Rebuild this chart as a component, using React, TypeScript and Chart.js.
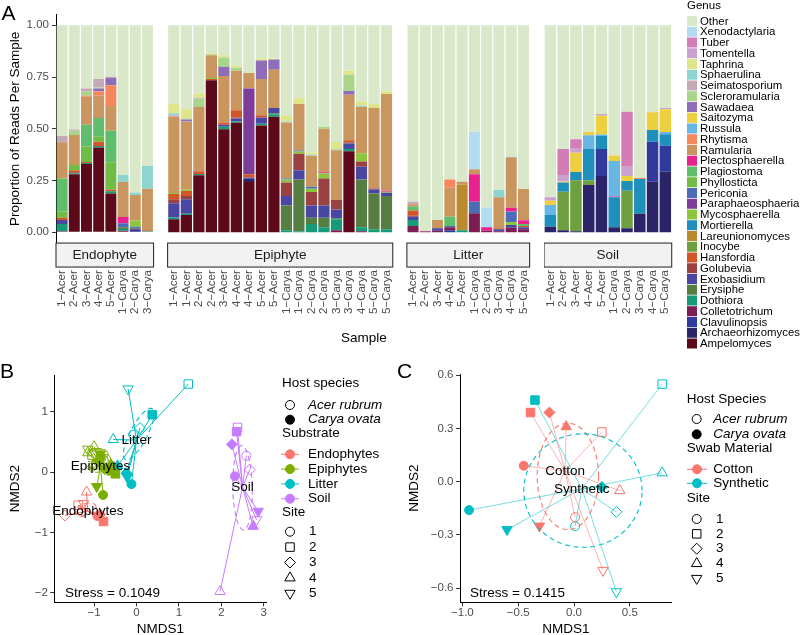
import React, { useEffect, useRef } from "react";
import { Chart, registerables } from "chart.js";

Chart.register(...registerables);

const FONT = "'Liberation Sans', Arial, Helvetica, sans-serif";
Chart.defaults.font.family = FONT;
const TICK = "#4d4d4d";

// ================= Panel A data =================
// legend order (top to bottom); stacking is the reverse (Ampelomyces at the bottom)
const genusNames = [
  "Other", "Xenodactylaria", "Tuber", "Tomentella", "Taphrina", "Sphaerulina",
  "Seimatosporium", "Scleroramularia", "Sawadaea", "Saitozyma", "Russula", "Rhytisma",
  "Ramularia", "Plectosphaerella", "Plagiostoma", "Phyllosticta", "Periconia",
  "Paraphaeosphaeria", "Mycosphaerella", "Mortierella", "Lareunionomyces", "Inocybe",
  "Hansfordia", "Golubevia", "Exobasidium", "Erysiphe", "Dothiora", "Colletotrichum",
  "Clavulinopsis", "Archaeorhizomyces", "Ampelomyces",
];
const genusColors = [
  "#d8e8c8", "#b2dcf0", "#d47cb6", "#c9a2cf", "#dfe68a", "#8fd5cf",
  "#c4aab4", "#a9d58a", "#8f6db8", "#ecd040", "#67b6e4", "#f5885a",
  "#c8965e", "#e8218f", "#5fbd6b", "#6fbd44", "#4d6cb8",
  "#7e3c99", "#8cc63f", "#1f8fbb", "#bb8a2e", "#6ea03f",
  "#d35628", "#9a4242", "#4a47a3", "#567d42", "#169b76", "#7b1d52",
  "#2f3a9c", "#2b2468", "#5c0a1a",
];

const facetNames = ["Endophyte", "Epiphyte", "Litter", "Soil"];
const endophyteSamples = ["1−Acer", "2−Acer", "3−Acer", "4−Acer", "5−Acer", "1−Carya", "2−Carya", "3−Carya"];
const epiphyteSamples = [
  "1−Acer", "1−Acer", "2−Acer", "2−Acer", "3−Acer", "4−Acer", "4−Acer", "5−Acer", "5−Acer",
  "1−Carya", "1−Carya", "2−Carya", "2−Carya", "3−Carya", "3−Carya", "4−Carya", "5−Carya", "5−Carya",
];
const litterSamples = ["1−Acer", "2−Acer", "3−Acer", "4−Acer", "5−Acer", "1−Carya", "2−Carya", "3−Carya", "4−Carya", "5−Carya"];
const soilSamples = ["1−Acer", "2−Acer", "3−Acer", "4−Acer", "5−Acer", "1−Carya", "2−Carya", "3−Carya", "4−Carya", "5−Carya"];
const proportionTicks = [0, 0.25, 0.5, 0.75, 1];

// proportions per genus: Endophyte(8) | Epiphyte(18) | Litter(10) | Soil(10)
const Ampelomyces = [
  0, .28, .33, .41, .188, 0, 0, 0,
  .063, .084, .276, .735, .498, .529, .243, .516, .558, 0, 0, 0, 0, 0, .392, 0, 0, 0,
  0, 0, 0, 0, 0, 0, 0, 0, 0, 0,
  0, 0, 0, 0, 0, 0, 0, 0, 0, 0,
];
const Archaeorhizomyces = [
  0, 0, 0, 0, 0, 0, 0, 0,
  0, 0, 0, 0, 0, 0, .017, 0, 0, 0, 0, 0, 0, 0, 0, 0, 0, 0,
  0, 0, 0, 0, 0, 0, 0, 0, 0, 0,
  .027, .01, .005, .228, .272, .024, .019, .09, .244, .293,
];
const Clavulinopsis = [
  0, 0, 0, 0, 0, 0, .012, 0,
  0, 0, 0, 0, 0, 0, 0, 0, 0, 0, 0, 0, 0, 0, 0, 0, 0, 0,
  0, 0, 0, .01, 0, 0, 0, 0, 0, 0,
  0, 0, 0, 0, .13, 0, 0, 0, .193, .125,
];
const Colletotrichum = [
  .005, 0, 0, 0, 0, .008, .005, 0,
  0, 0, 0, 0, 0, 0, 0, 0, 0, 0, 0, 0, 0, .01, 0, .005, 0, 0,
  .03, .004, .008, .015, 0, .092, .008, .005, .022, .015,
  0, 0, 0, 0, 0, 0, 0, 0, 0, 0,
];
const Dothiora = [
  .035, .005, .005, .007, .01, .008, .005, .005,
  .009, .006, .006, 0, .012, .006, 0, .009, .012, .01, .005, .04, .025, .053, .01, .02, .015, .015,
  .03, 0, 0, 0, .01, 0, 0, 0, 0, 0,
  0, 0, 0, 0, 0, 0, 0, 0, 0, 0,
];
const Erysiphe = [
  0, 0, 0, 0, 0, .008, 0, 0,
  0, 0, 0, 0, 0, 0, 0, 0, .005, .12, .25, .03, .045, .005, 0, .23, .173, .16,
  0, 0, 0, 0, 0, 0, 0, 0, 0, 0,
  0, 0, 0, 0, 0, 0, 0, 0, 0, 0,
];
const Exobasidium = [
  .02, 0, 0, 0, 0, 0, .005, 0,
  .068, .07, 0, 0, .01, .015, .005, .03, .025, .045, .045, .06, .06, .042, .027, .062, .019, .016,
  .015, 0, .012, 0, 0, 0, 0, .01, .013, .01,
  0, 0, 0, 0, 0, 0, 0, 0, 0, 0,
];
const Golubevia = [
  0, .005, 0, 0, 0, 0, 0, 0,
  .02, .015, 0, 0, 0, .005, 0, 0, 0, .065, .08, .065, .13, .046, .005, .025, .005, 0,
  .005, 0, 0, 0, 0, 0, 0, 0, 0, 0,
  0, 0, 0, 0, 0, 0, 0, 0, 0, 0,
];
const Hansfordia = [
  .01, .01, .005, .02, .007, 0, 0, .005,
  .025, .025, .013, .005, .01, .035, .015, .01, 0, 0, 0, 0, 0, 0, .011, 0, 0, 0,
  .025, 0, 0, 0, 0, 0, 0, .005, 0, .005,
  0, 0, 0, 0, 0, 0, 0, 0, 0, 0,
];
const Inocybe = [
  0, 0, 0, 0, 0, 0, 0, 0,
  0, 0, 0, 0, 0, 0, 0, 0, 0, 0, 0, 0, 0, 0, 0, 0, 0, 0,
  0, 0, 0, 0, 0, 0, 0, 0, 0, 0,
  0, .186, .247, .024, 0, 0, .182, 0, 0, 0,
];
const Lareunionomyces = [
  0, 0, 0, 0, 0, 0, 0, 0,
  0, 0, 0, 0, 0, 0, 0, 0, 0, 0, 0, 0, 0, 0, 0, 0, 0, 0,
  0, 0, 0, 0, .22, 0, 0, 0, 0, 0,
  0, 0, 0, 0, 0, 0, 0, 0, 0, 0,
];
const Mortierella = [
  0, 0, 0, 0, 0, 0, 0, 0,
  0, 0, 0, 0, 0, 0, 0, 0, 0, 0, 0, 0, 0, 0, 0, 0, 0, 0,
  0, 0, 0, 0, 0, 0, 0, 0, 0, 0,
  .057, .044, .039, .15, .063, .145, .047, .167, .057, .056,
];
const Mycosphaerella = [
  0, 0, 0, 0, 0, 0, .03, 0,
  .005, .005, 0, .005, 0, 0, 0, 0, 0, .015, .01, .015, .025, 0, 0, .04, 0, .005,
  0, 0, 0, 0, 0, 0, 0, 0, .015, 0,
  0, 0, 0, 0, 0, 0, 0, 0, 0, 0,
];
const Paraphaeosphaeria = [
  0, 0, 0, 0, 0, 0, 0, 0,
  0, 0, 0, 0, 0, 0, .415, 0, 0, 0, 0, 0, 0, 0, 0, 0, 0, 0,
  0, 0, 0, 0, 0, 0, 0, 0, 0, 0,
  0, 0, 0, 0, 0, 0, 0, 0, 0, 0,
];
const Periconia = [
  0, 0, 0, 0, 0, .02, 0, 0,
  0, 0, 0, 0, 0, 0, 0, 0, 0, .005, .005, .01, 0, 0, 0, 0, 0, 0,
  0, 0, 0, .005, 0, .056, 0, 0, .05, 0,
  0, 0, 0, 0, 0, 0, 0, 0, 0, 0,
];
const Phyllosticta = [
  .03, .025, .075, .025, .133, 0, 0, 0,
  0, 0, 0, 0, 0, 0, 0, 0, 0, 0, 0, 0, 0, 0, 0, 0, 0, 0,
  0, 0, 0, 0, 0, 0, 0, 0, 0, 0,
  0, 0, 0, 0, 0, 0, 0, 0, 0, 0,
];
const Plagiostoma = [
  .16, 0, .105, .09, .152, 0, 0, 0,
  0, 0, 0, 0, 0, 0, 0, 0, 0, 0, 0, 0, 0, 0, 0, 0, 0, 0,
  .02, 0, 0, .045, 0, 0, 0, 0, 0, .01,
  0, 0, 0, 0, 0, 0, 0, 0, 0, 0,
];
const Plectosphaerella = [
  0, 0, 0, 0, 0, .03, 0, 0,
  0, 0, 0, 0, 0, 0, 0, 0, 0, 0, 0, 0, .005, 0, 0, 0, 0, .005,
  0, .002, 0, 0, 0, .133, .016, 0, .019, .018,
  0, 0, 0, 0, 0, .004, 0, 0, 0, 0,
];
const Ramularia = [
  .175, .145, .135, .108, .12, .169, .123, .2,
  .37, .33, .31, .11, .225, .19, .075, .175, .185, .27, .225, .15, .21, .24, .22, .225, .39, .467,
  .01, 0, .04, .14, .014, .023, 0, .149, .243, .151,
  0, 0, 0, 0, 0, 0, 0, 0, 0, 0,
];
const Rhytisma = [
  0, 0, .005, .022, .1, 0, 0, 0,
  0, 0, 0, 0, 0, 0, 0, 0, 0, 0, 0, 0, 0, 0, 0, 0, 0, 0,
  0, 0, 0, .04, 0, 0, 0, 0, 0, 0,
  0, 0, 0, 0, 0, 0, 0, .005, 0, 0,
];
const Russula = [
  0, 0, 0, 0, 0, 0, 0, 0,
  0, 0, 0, 0, 0, 0, 0, 0, 0, 0, 0, 0, 0, 0, 0, 0, 0, 0,
  0, 0, 0, 0, 0, 0, 0, 0, 0, 0,
  .048, 0, 0, .067, .007, .171, 0, 0, 0, .01,
];
const Saitozyma = [
  0, 0, 0, 0, 0, 0, 0, 0,
  0, 0, 0, 0, 0, 0, 0, 0, 0, 0, 0, 0, 0, 0, 0, 0, 0, 0,
  0, 0, 0, 0, 0, 0, 0, 0, 0, 0,
  .021, .005, .093, .015, .091, .027, .024, 0, .086, .111,
];
const Sawadaea = [
  0, 0, 0, .013, .035, 0, 0, 0,
  0, .01, 0, 0, .045, 0, 0, .09, .05, 0, 0, 0, 0, 0, .018, 0, 0, 0,
  0, 0, 0, 0, 0, 0, 0, 0, 0, 0,
  0, 0, 0, 0, 0, 0, 0, 0, 0, 0,
];
const Scleroramularia = [
  0, .02, .02, .005, 0, 0, 0, 0,
  0, .005, .04, .005, .045, .015, 0, 0, 0, 0, 0, 0, .01, 0, .079, 0, 0, 0,
  0, 0, 0, 0, 0, 0, 0, 0, 0, 0,
  0, 0, 0, 0, 0, 0, 0, 0, 0, 0,
];
const Seimatosporium = [
  .03, .007, .015, .04, .007, 0, 0, 0,
  .005, 0, .005, 0, 0, 0, 0, 0, 0, 0, 0, 0, 0, 0, 0, 0, 0, 0,
  .012, 0, 0, 0, 0, 0, 0, 0, 0, 0,
  0, 0, 0, 0, 0, 0, 0, 0, 0, 0,
];
const Sphaerulina = [
  0, 0, 0, 0, 0, .035, .012, .11,
  .01, 0, 0, 0, 0, 0, 0, 0, 0, .005, 0, .005, 0, .005, 0, .005, 0, 0,
  0, 0, 0, 0, 0, 0, 0, .035, .003, 0,
  0, 0, 0, 0, 0, 0, 0, 0, 0, 0,
];
const Taphrina = [
  0, 0, 0, 0, 0, 0, 0, 0,
  .045, .045, .02, .005, .01, .01, 0, .01, .005, .03, .03, .01, 0, .035, .02, .02, .018, .014,
  0, 0, 0, 0, 0, 0, 0, 0, 0, 0,
  0, 0, 0, 0, 0, 0, 0, 0, 0, 0,
];
const Tomentella = [
  0, 0, 0, 0, 0, 0, 0, 0,
  0, 0, 0, 0, 0, 0, 0, 0, 0, 0, 0, 0, 0, 0, 0, 0, 0, 0,
  0, 0, 0, 0, 0, 0, 0, 0, 0, 0,
  .016, .032, .023, 0, .008, 0, .045, 0, 0, .006,
];
const Tuber = [
  0, 0, 0, 0, 0, 0, 0, 0,
  0, 0, 0, 0, 0, 0, 0, 0, 0, 0, 0, 0, 0, 0, 0, 0, 0, 0,
  0, 0, 0, 0, 0, 0, 0, 0, 0, 0,
  0, .125, .042, 0, 0, 0, .265, 0, 0, 0,
];
const Xenodactylaria = [
  0, 0, 0, 0, 0, 0, 0, 0,
  0, 0, 0, 0, 0, 0, 0, 0, 0, 0, 0, 0, 0, 0, 0, 0, 0, 0,
  0, 0, 0, 0, 0, .182, .096, 0, 0, 0,
  0, 0, 0, 0, 0, 0, 0, 0, 0, 0,
];
const Other = [
  .535, .503, .305, .26, .248, .722, .808, .68,
  .38, .405, .33, .135, .145, .195, .23, .16, .16, .435, .35, .615, .49, .564, .218, .368, .38, .318,
  .853, .994, .94, .745, .756, .514, .88, .796, .635, .791,
  .831, .598, .551, .516, .429, .629, .418, .738, .42, .399,
];

const genusSeries: Record<string, number[]> = {
  Other, Xenodactylaria, Tuber, Tomentella, Taphrina, Sphaerulina, Seimatosporium,
  Scleroramularia, Sawadaea, Saitozyma, Russula, Rhytisma, Ramularia, Plectosphaerella,
  Plagiostoma, Phyllosticta, Periconia, Paraphaeosphaeria, Mycosphaerella, Mortierella,
  Lareunionomyces, Inocybe, Hansfordia, Golubevia, Exobasidium, Erysiphe, Dothiora,
  Colletotrichum, Clavulinopsis, Archaeorhizomyces, Ampelomyces,
};

// ================= Panel B data (NMDS, substrates) =================
const bGroups = ["Endophytes", "Epiphytes", "Litter", "Soil"];
const bColors = ["#F8766D", "#7CAE00", "#00BFC4", "#C77CFF"];

const endoX = [-1.3, -1.38, -1.69, -1.18, -1.25, -0.92, -0.78, -0.86];
const endoY = [-0.66, -0.55, -0.72, -0.33, -0.52, -0.73, -0.82, -0.7];
const endoSite = [1, 2, 3, 4, 5, 1, 2, 3];
const endoHost = ["Acer", "Acer", "Acer", "Acer", "Acer", "Carya", "Carya", "Carya"];

const epiX = [-0.78, -0.72, -1.05, -0.95, -1.05, -1.0, -1.15, -1.15, -0.95, -0.79, -0.85, -0.5, -0.6, -0.75, -0.9, -0.6, -0.94, -0.85];
const epiY = [0.3, 0.22, 0.28, 0.12, 0.08, 0.42, 0.32, 0.38, 0.34, -0.38, 0.25, -0.03, 0.02, 0.05, 0.18, 0.12, -0.24, 0.3];
const epiSite = [1, 1, 2, 2, 3, 4, 4, 5, 5, 1, 1, 2, 2, 3, 3, 4, 5, 5];
const epiHost = ["Acer", "Acer", "Acer", "Acer", "Acer", "Acer", "Acer", "Acer", "Acer",
  "Carya", "Carya", "Carya", "Carya", "Carya", "Carya", "Carya", "Carya", "Carya"];

const litX = [-0.08, 1.22, 0.08, -0.55, -0.2, -0.12, 0.37, -0.24, -0.45, -0.22];
const litY = [0.62, 1.46, 0.73, 0.54, 1.38, -0.2, 0.95, -0.02, 0.1, -0.08];
const litSite = [1, 2, 3, 4, 5, 1, 2, 3, 4, 5];
const litHost = ["Acer", "Acer", "Acer", "Acer", "Acer", "Carya", "Carya", "Carya", "Carya", "Carya"];

const soilX = [2.59, 2.38, 2.67, 1.97, 2.83, 2.32, 2.36, 2.25, 2.75, 2.87];
const soilY = [0.27, 0.74, 0.04, -1.98, -0.79, -0.07, 0.67, 0.46, -0.9, -0.65];
const soilSite = [1, 2, 3, 4, 5, 1, 2, 3, 4, 5];
const soilHost = ["Acer", "Acer", "Acer", "Acer", "Acer", "Carya", "Carya", "Carya", "Carya", "Carya"];

const bCentroidX = [-1.15, -0.85, 0.0, 2.5];
const bCentroidY = [-0.65, 0.09, 0.53, -0.25];
// dashed ellipses: centre, semi-axes, angle (deg)
const bEllCx = [-1.2, -0.88, 0.05, 2.5];
const bEllCy = [-0.62, 0.14, 0.63, -0.26];
const bEllA = [0.25, 0.22, 0.53, 0.7];
const bEllB = [0.1, 0.13, 0.18, 0.23];
const bEllDeg = [10, 20, 51, 92];
const bStress = "Stress = 0.1049";
const bXTicks = [-1, 0, 1, 2, 3];
const bYTicks = [-2, -1, 0, 1];

// ================= Panel C data (NMDS, swab material) =================
const cGroups = ["Cotton", "Synthetic"];
const cColors = ["#F8766D", "#00BFC4"];

const cottonX = [0.01, 0.25, 0.41, 0.26, -0.45, -0.39, -0.22, -0.07, -0.31];
const cottonY = [-0.2, 0.28, -0.05, -0.5, 0.09, 0.39, 0.39, 0.31, -0.25];
const cottonSite = [1, 2, 4, 5, 1, 2, 3, 4, 5];
const cottonHost = ["Acer", "Acer", "Acer", "Acer", "Carya", "Carya", "Carya", "Carya", "Carya"];

const synthX = [0.01, 0.79, 0.38, 0.79, 0.38, -0.94, -0.35, 0.25, -0.6];
const synthY = [-0.25, 0.55, -0.17, 0.05, -0.62, -0.16, 0.46, -0.03, -0.27];
const synthSite = [1, 2, 3, 4, 5, 1, 2, 3, 5];
const synthHost = ["Acer", "Acer", "Acer", "Acer", "Acer", "Carya", "Carya", "Carya", "Carya"];

const cCentroidX = [-0.08, 0.07];
const cCentroidY = [0.06, -0.04];
const cEllCx = [-0.055, 0.08];
const cEllCy = [0.03, -0.05];
const cEllA = [0.275, 0.53];
const cEllB = [0.3, 0.32];
const cEllDeg = [0, 0];
const cStress = "Stress = 0.1415";
const cXTicks = [-1, -0.5, 0, 0.5];
const cYTicks = [-0.6, -0.3, 0, 0.3, 0.6];

const siteLevels = [1, 2, 3, 4, 5];

// ================= layout constants =================
const SLOT = 12.77;
const GAP = 9.43;
const A_LEFT = 56;
const A_TOP = 14.95;
const A_BOTTOM = 242.65;
const A_HEIGHT = 352;
const facetSamples = [endophyteSamples, epiphyteSamples, litterSamples, soilSamples];

const facetSpecs = (() => {
  let x = A_LEFT;
  let offset = 0;
  return facetSamples.map((s, i) => {
    const left = x;
    const right = x + s.length * SLOT;
    x = right + GAP;
    const canvasLeft = i === 0 ? 0 : Math.floor(left);
    const canvasRight = i === 3 ? 800 : Math.ceil(right);
    const spec = { i, left, right, canvasLeft, width: canvasRight - canvasLeft, offset, n: s.length };
    offset += s.length;
    return spec;
  });
})();
const A_RIGHT = facetSpecs[3].right;

const SITE_STYLE: Record<number, { style: string; rot: number; r: number }> = {
  1: { style: "circle", rot: 0, r: 4.5 },
  2: { style: "rect", rot: 0, r: 6 },
  3: { style: "rectRot", rot: 0, r: 5.5 },
  4: { style: "triangle", rot: 0, r: 6 },
  5: { style: "triangle", rot: 180, r: 6 },
};

const B_BOX = { ox: 0, oy: 345, width: 393, height: 291, l: 54.3, r: 266.7, t: 375, b: 602.3, xr: [-1.94, 3.07], yr: [-2.16, 1.61], ytp: 9 };
const C_BOX = { ox: 393, oy: 345, width: 407, height: 291, l: 460, r: 671.7, t: 374, b: 602.3, xr: [-1.0215, 0.8754], yr: [-0.6798, 0.6071], ytp: 14.3 };

// ================= drawing helpers =================
function putText(ctx: any, s: string, x: number, y: number, size: number, opt: any = {}) {
  ctx.save();
  ctx.font = `${opt.italic ? "italic " : ""}${size}px ${FONT}`;
  ctx.fillStyle = opt.color ?? "#000";
  ctx.textAlign = opt.align ?? "left";
  ctx.textBaseline = opt.baseline ?? "middle";
  ctx.fillText(s, x, y);
  ctx.restore();
}

function drawShape(ctx: any, site: number, x: number, y: number, color: string, filled: boolean) {
  const st = SITE_STYLE[site];
  const r = st.r;
  ctx.save();
  ctx.beginPath();
  if (st.style === "circle") ctx.arc(x, y, r, 0, Math.PI * 2);
  else if (st.style === "rect") {
    const s = r * Math.SQRT1_2;
    ctx.rect(x - s, y - s, 2 * s, 2 * s);
  } else if (st.style === "rectRot") {
    ctx.moveTo(x, y - r);
    ctx.lineTo(x + r, y);
    ctx.lineTo(x, y + r);
    ctx.lineTo(x - r, y);
    ctx.closePath();
  } else {
    const a0 = (st.rot * Math.PI) / 180;
    for (let k = 0; k < 3; k++) {
      const a = a0 + (k * 2 * Math.PI) / 3;
      const px = x + Math.sin(a) * r;
      const py = y - Math.cos(a) * r;
      if (k) ctx.lineTo(px, py);
      else ctx.moveTo(px, py);
    }
    ctx.closePath();
  }
  ctx.lineWidth = 1;
  ctx.strokeStyle = color;
  if (filled) {
    ctx.fillStyle = color;
    ctx.fill();
  }
  ctx.stroke();
  ctx.restore();
}

function drawEllipse(chart: any, cx: number, cy: number, a: number, b: number, deg: number, color: string) {
  const { ctx } = chart;
  const sx = chart.scales.x;
  const sy = chart.scales.y;
  const th = (deg * Math.PI) / 180;
  ctx.save();
  ctx.beginPath();
  const N = 90;
  for (let k = 0; k <= N; k++) {
    const t = (k / N) * Math.PI * 2;
    const dx = a * Math.cos(t);
    const dy = b * Math.sin(t);
    const px = sx.getPixelForValue(cx + dx * Math.cos(th) - dy * Math.sin(th));
    const py = sy.getPixelForValue(cy + dx * Math.sin(th) + dy * Math.cos(th));
    if (k) ctx.lineTo(px, py);
    else ctx.moveTo(px, py);
  }
  ctx.closePath();
  ctx.setLineDash([5, 3.5]);
  ctx.strokeStyle = color;
  ctx.lineWidth = 1.1;
  ctx.stroke();
  ctx.restore();
}

function drawGenusLegend(ctx: any, ox: number) {
  putText(ctx, "Genus", 687 - ox, 6, 11.5);
  genusNames.forEach((g, k) => {
    const cy = 21 + k * 10.75;
    ctx.fillStyle = genusColors[k];
    ctx.fillRect(687 - ox, cy - 5, 10, 10);
    putText(ctx, g, 700 - ox, cy + 0.5, 11.4);
  });
}

// ================= chart builders =================
function makeFacet(canvas: HTMLCanvasElement, spec: any) {
  const samples = facetSamples[spec.i];
  const stackOrder = [...genusNames].reverse();
  const datasets = stackOrder.map((g) => ({
    label: g,
    data: genusSeries[g].slice(spec.offset, spec.offset + spec.n),
    backgroundColor: genusColors[genusNames.indexOf(g)],
    borderWidth: 0,
    barPercentage: 0.9,
    categoryPercentage: 1,
  }));
  const ox = spec.canvasLeft;
  const showY = spec.i === 0;
  const decor = {
    id: "facetDecor",
    afterDraw(chart: any) {
      const { ctx, chartArea: ca } = chart;
      const top = ca.bottom + 0.4;
      const h = 24;
      ctx.save();
      ctx.fillStyle = "#f2f2f2";
      ctx.fillRect(ca.left, top, ca.right - ca.left, h);
      ctx.strokeStyle = "#333";
      ctx.lineWidth = 1.1;
      ctx.strokeRect(ca.left, top, ca.right - ca.left, h);
      ctx.restore();
      putText(ctx, facetNames[spec.i], (ca.left + ca.right) / 2, top + h / 2 + 0.5, 13.5, { align: "center", color: "#1a1a1a" });
      if (spec.i === 0) putText(ctx, "A", 1.5 - ox, 20, 21, { baseline: "alphabetic" });
      if (spec.i === 1) putText(ctx, "Sample", (A_LEFT + A_RIGHT) / 2 - ox, 338, 13.5, { align: "center" });
      if (spec.i === 3) drawGenusLegend(ctx, ox);
    },
  };
  return new Chart(canvas, {
    type: "bar",
    data: { labels: samples, datasets },
    options: {
      responsive: false,
      animation: false,
      events: [],
      layout: {
        padding: {
          left: showY ? 0 : spec.left - ox,
          right: ox + spec.width - spec.right,
          top: A_TOP,
          bottom: 0,
        },
      },
      plugins: { legend: { display: false }, tooltip: { enabled: false } },
      scales: {
        x: {
          stacked: true,
          grid: { display: false, drawTicks: true, tickLength: 27.5 },
          border: { display: false },
          ticks: {
            autoSkip: false,
            minRotation: 90,
            maxRotation: 90,
            padding: 0,
            color: TICK,
            font: { family: FONT, size: 11.5, lineHeight: 1 },
          },
          afterFit: (s: any) => {
            s.height = A_HEIGHT - A_BOTTOM;
          },
        },
        y: {
          stacked: true,
          display: showY,
          min: -0.05,
          max: 1.05,
          afterBuildTicks: (s: any) => {
            s.ticks = proportionTicks.map((v) => ({ value: v }));
          },
          afterFit: (s: any) => {
            s.width = showY ? A_LEFT : 0;
          },
          grid: { drawOnChartArea: false, drawTicks: true, tickLength: 4, color: "#333" },
          border: { display: true, color: "#000", width: 1 },
          ticks: {
            padding: 3,
            color: TICK,
            font: { family: FONT, size: 11.5, lineHeight: 1 },
            callback: (v: any) => Number(v).toFixed(2),
          },
          title: {
            display: true,
            text: "Proportion of Reads Per Sample",
            color: "#000",
            font: { family: FONT, size: 13.5, lineHeight: 1 },
            padding: { top: 9, bottom: 0 },
          },
        },
      },
    } as any,
    plugins: [decor],
  });
}

function pointDataset(xs: number[], ys: number[], sites: number[], hosts: string[], color: string) {
  return {
    type: "scatter",
    data: xs.map((x, i) => ({ x, y: ys[i] })),
    pointStyle: sites.map((s) => SITE_STYLE[s].style),
    rotation: sites.map((s) => SITE_STYLE[s].rot),
    pointRadius: sites.map((s) => SITE_STYLE[s].r),
    pointHoverRadius: sites.map((s) => SITE_STYLE[s].r),
    pointBackgroundColor: hosts.map((h) => (h === "Carya" ? color : "rgba(0,0,0,0)")),
    pointBorderColor: color,
    pointBorderWidth: 1,
    showLine: false,
    order: 0,
  };
}

function spiderDataset(cx: number, cy: number, xs: number[], ys: number[], color: string, width: number) {
  const data: any[] = [];
  xs.forEach((x, i) => {
    data.push({ x: cx, y: cy }, { x, y: ys[i] }, { x, y: null });
  });
  return {
    type: "line",
    data,
    borderColor: color,
    borderWidth: width,
    pointRadius: 0,
    pointHoverRadius: 0,
    spanGaps: false,
    fill: false,
    tension: 0,
    order: 1,
  };
}

function makeNmds(canvas: HTMLCanvasElement, box: any, datasets: any[], xticks: number[], yticks: number[], fmt: (v: number) => string, decor: any) {
  return new Chart(canvas, {
    type: "scatter",
    data: { datasets },
    options: {
      responsive: false,
      animation: false,
      events: [],
      layout: { padding: { top: box.t - box.oy, right: box.ox + box.width - box.r, left: 0, bottom: 0 } },
      plugins: { legend: { display: false }, tooltip: { enabled: false } },
      scales: {
        x: {
          type: "linear",
          min: box.xr[0],
          max: box.xr[1],
          afterBuildTicks: (s: any) => {
            s.ticks = xticks.map((v) => ({ value: v }));
          },
          afterFit: (s: any) => {
            s.height = box.oy + box.height - box.b;
          },
          grid: { drawOnChartArea: false, drawTicks: true, tickLength: 4, color: "#333" },
          border: { display: true, color: "#000", width: 1 },
          ticks: { padding: 1, color: TICK, font: { family: FONT, size: 11.5, lineHeight: 1 }, callback: (v: any) => fmt(Number(v)) },
          title: { display: true, text: "NMDS1", color: "#000", font: { family: FONT, size: 13.5, lineHeight: 1 }, padding: { top: 0, bottom: 0 } },
        },
        y: {
          type: "linear",
          min: box.yr[0],
          max: box.yr[1],
          afterBuildTicks: (s: any) => {
            s.ticks = yticks.map((v) => ({ value: v }));
          },
          afterFit: (s: any) => {
            s.width = box.l - box.ox;
          },
          grid: { drawOnChartArea: false, drawTicks: true, tickLength: 4, color: "#333" },
          border: { display: true, color: "#000", width: 1 },
          ticks: { padding: 2.5, color: TICK, font: { family: FONT, size: 11.5, lineHeight: 1 }, callback: (v: any) => fmt(Number(v)) },
          title: { display: true, text: "NMDS2", color: "#000", font: { family: FONT, size: 13.5, lineHeight: 1 }, padding: { top: box.ytp, bottom: 0 } },
        },
      },
    } as any,
    plugins: [decor],
  });
}

function buildB(canvas: HTMLCanvasElement) {
  const xs = [endoX, epiX, litX, soilX];
  const ys = [endoY, epiY, litY, soilY];
  const sites = [endoSite, epiSite, litSite, soilSite];
  const hosts = [endoHost, epiHost, litHost, soilHost];
  const datasets: any[] = [];
  bGroups.forEach((g, k) => {
    datasets.push(pointDataset(xs[k], ys[k], sites[k], hosts[k], bColors[k]));
    datasets.push(spiderDataset(bCentroidX[k], bCentroidY[k], xs[k], ys[k], bColors[k], 1));
  });
  const { ox, oy } = B_BOX;
  const decor = {
    id: "bDecor",
    afterDatasetsDraw(chart: any) {
      bGroups.forEach((g, k) => drawEllipse(chart, bEllCx[k], bEllCy[k], bEllA[k], bEllB[k], bEllDeg[k], bColors[k]));
    },
    afterDraw(chart: any) {
      const { ctx } = chart;
      const sx = chart.scales.x;
      const sy = chart.scales.y;
      bGroups.forEach((g, k) => {
        putText(ctx, g, sx.getPixelForValue(bCentroidX[k]), sy.getPixelForValue(bCentroidY[k]), 13.5, { align: "center" });
      });
      putText(ctx, bStress, 65 - ox, 593 - oy, 13.5);
      putText(ctx, "B", 0 - ox, 378.3 - oy, 21, { baseline: "alphabetic" });
      // legend
      putText(ctx, "Host species", 282 - ox, 383.3 - oy, 13.5);
      drawShape(ctx, 1, 290 - ox, 405 - oy, "#000", false);
      putText(ctx, "Acer rubrum", 308 - ox, 405 - oy, 13.5, { italic: true });
      drawShape(ctx, 1, 290 - ox, 419.7 - oy, "#000", true);
      putText(ctx, "Carya ovata", 308 - ox, 419.7 - oy, 13.5, { italic: true });
      putText(ctx, "Substrate", 282 - ox, 433.3 - oy, 13.5);
      bGroups.forEach((g, k) => {
        const y = 454.3 + 14.8 * k - oy;
        ctx.save();
        ctx.strokeStyle = bColors[k];
        ctx.lineWidth = 1;
        ctx.beginPath();
        ctx.moveTo(281 - ox, y);
        ctx.lineTo(299 - ox, y);
        ctx.stroke();
        ctx.restore();
        drawShape(ctx, 1, 290 - ox, y, bColors[k], true);
        putText(ctx, g, 308 - ox, y, 13.5);
      });
      putText(ctx, "Site", 282 - ox, 512.3 - oy, 13.5);
      siteLevels.forEach((s, k) => {
        const y = 531.7 + 15.4 * k - oy;
        drawShape(ctx, s, 290 - ox, y, "#000", false);
        putText(ctx, String(s), 309 - ox, y, 13.5);
      });
    },
  };
  return makeNmds(canvas, B_BOX, datasets, bXTicks, bYTicks, (v) => String(v).replace("-", "−"), decor);
}

function buildC(canvas: HTMLCanvasElement) {
  const xs = [cottonX, synthX];
  const ys = [cottonY, synthY];
  const sites = [cottonSite, synthSite];
  const hosts = [cottonHost, synthHost];
  const lineColors = ["rgba(248,118,109,0.6)", "rgba(0,191,196,0.6)"];
  const datasets: any[] = [];
  cGroups.forEach((g, k) => {
    datasets.push(pointDataset(xs[k], ys[k], sites[k], hosts[k], cColors[k]));
    datasets.push(spiderDataset(cCentroidX[k], cCentroidY[k], xs[k], ys[k], lineColors[k], 0.9));
  });
  const { ox, oy } = C_BOX;
  const decor = {
    id: "cDecor",
    afterDatasetsDraw(chart: any) {
      cGroups.forEach((g, k) => drawEllipse(chart, cEllCx[k], cEllCy[k], cEllA[k], cEllB[k], cEllDeg[k], cColors[k]));
    },
    afterDraw(chart: any) {
      const { ctx } = chart;
      const sx = chart.scales.x;
      const sy = chart.scales.y;
      cGroups.forEach((g, k) => {
        putText(ctx, g, sx.getPixelForValue(cCentroidX[k]), sy.getPixelForValue(cCentroidY[k]), 13.5, { align: "center" });
      });
      putText(ctx, cStress, 470 - ox, 593.3 - oy, 13.5);
      putText(ctx, "C", 397 - ox, 378.3 - oy, 21, { baseline: "alphabetic" });
      putText(ctx, "Host Species", 686.7 - ox, 399 - oy, 13.5);
      drawShape(ctx, 1, 696.7 - ox, 419 - oy, "#000", false);
      putText(ctx, "Acer rubrum", 713.3 - ox, 419 - oy, 13.5, { italic: true });
      drawShape(ctx, 1, 696.7 - ox, 434.3 - oy, "#000", true);
      putText(ctx, "Carya ovata", 713.3 - ox, 434.3 - oy, 13.5, { italic: true });
      putText(ctx, "Swab Material", 686.7 - ox, 448.3 - oy, 13.5);
      cGroups.forEach((g, k) => {
        const y = 469.3 + 14 * k - oy;
        ctx.save();
        ctx.strokeStyle = cColors[k];
        ctx.lineWidth = 1;
        ctx.beginPath();
        ctx.moveTo(687 - ox, y);
        ctx.lineTo(707 - ox, y);
        ctx.stroke();
        ctx.restore();
        drawShape(ctx, 1, 697 - ox, y, cColors[k], true);
        putText(ctx, g, 713.3 - ox, y, 13.5);
      });
      putText(ctx, "Site", 686.7 - ox, 498.3 - oy, 13.5);
      siteLevels.forEach((s, k) => {
        const y = 519 + 14.85 * k - oy;
        drawShape(ctx, s, 696.7 - ox, y, "#000", false);
        putText(ctx, String(s), 716 - ox, y, 13.5);
      });
    },
  };
  return makeNmds(canvas, C_BOX, datasets, cXTicks, cYTicks, (v) => v.toFixed(1).replace("-", "−"), decor);
}

export default function App() {
  const facetRefs = useRef<(HTMLCanvasElement | null)[]>([]);
  const bRef = useRef<HTMLCanvasElement | null>(null);
  const cRef = useRef<HTMLCanvasElement | null>(null);

  useEffect(() => {
    const charts: Chart[] = [];
    facetSpecs.forEach((spec, i) => {
      const c = facetRefs.current[i];
      if (c) charts.push(makeFacet(c, spec));
    });
    if (bRef.current) charts.push(buildB(bRef.current));
    if (cRef.current) charts.push(buildC(cRef.current));
    return () => charts.forEach((ch) => ch.destroy());
  }, []);

  const pos = (l: number, t: number, w: number, h: number): React.CSSProperties => ({
    position: "absolute",
    left: l,
    top: t,
    width: w,
    height: h,
    display: "block",
  });

  return (
    <div style={{ position: "absolute", left: 0, top: 0, width: 800, height: 635, background: "#fff", overflow: "hidden" }}>
      {facetSpecs.map((spec, i) => (
        <canvas
          key={i}
          ref={(el) => {
            facetRefs.current[i] = el;
          }}
          width={spec.width}
          height={A_HEIGHT}
          style={pos(spec.canvasLeft, 0, spec.width, A_HEIGHT)}
        />
      ))}
      <canvas ref={bRef} width={B_BOX.width} height={B_BOX.height} style={pos(B_BOX.ox, B_BOX.oy, B_BOX.width, B_BOX.height)} />
      <canvas ref={cRef} width={C_BOX.width} height={C_BOX.height} style={pos(C_BOX.ox, C_BOX.oy, C_BOX.width, C_BOX.height)} />
    </div>
  );
}
